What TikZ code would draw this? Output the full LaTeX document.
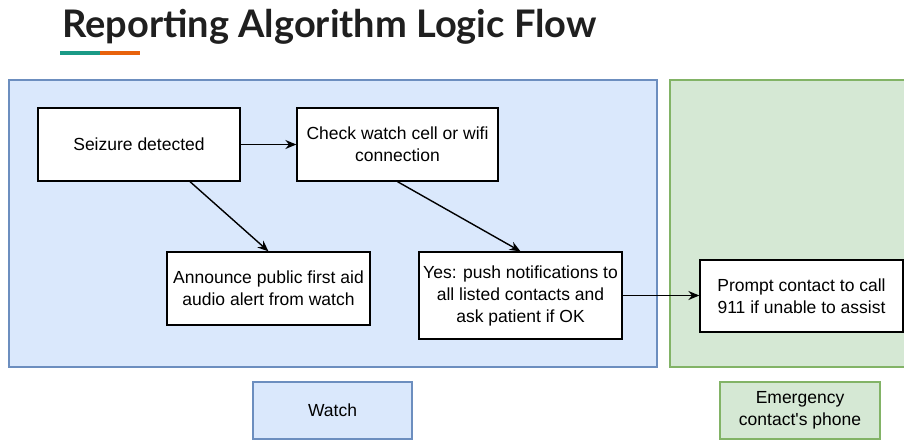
\documentclass[tikz,border=0pt]{standalone}
\usepackage{fontspec}
\setmainfont{Liberation Sans}
\newfontfamily\titlefont{Lato}
\usetikzlibrary{arrows.meta}
\definecolor{watchfill}{HTML}{DAE8FC}
\definecolor{watchline}{HTML}{6C8EBF}
\definecolor{phonefill}{HTML}{D5E8D4}
\definecolor{phoneline}{HTML}{82B366}
\definecolor{barteal}{HTML}{1A9A86}
\definecolor{barorange}{HTML}{E8620C}

\begin{document}
\begin{tikzpicture}[x=1pt, y=-1pt,
    every node/.style={font=\fontsize{17.5}{22}\selectfont},
    stepbox/.style={draw=black, line width=1.3pt, fill=white, align=center, inner sep=1pt},
    flow/.style={line width=1.4pt, -{Stealth[length=11pt, width=9pt]}}]
    \useasboundingbox (0,0) rectangle (904,440);

    % title
    \node[anchor=base west, inner sep=0pt, font=\titlefont\bfseries\fontsize{38}{44}\selectfont, text=black!88] (title) at (62,37) {Reporting Algorithm Logic Flow};
    \fill[barteal] (60,51) rectangle (100,55);
    \fill[barorange] (100,51) rectangle (140,55);

    % swimlanes
    \draw[fill=watchfill, draw=watchline, line width=1.2pt] (9,80) rectangle (657,367);
    \draw[fill=phonefill, draw=phoneline, line width=1.2pt] (670,80) rectangle (912,367);

    \node[stepbox, minimum width=202, minimum height=73] (seize) at (139,144.5) {Seizure detected};
    \node[stepbox, minimum width=201, minimum height=73] (check) at (397.5,144.5) {Check watch cell or wifi\\connection};
    \node[stepbox, minimum width=203, minimum height=73] (announce) at (268.5,288.5) {Announce public first aid\\audio alert from watch};
    \node[stepbox, minimum width=203, minimum height=87] (push) at (520.5,295.5) {Yes: push notifications to\\all listed contacts and\\ask patient if OK};
    \node[stepbox, minimum width=203, minimum height=72] (prompt) at (801.5,296) {Prompt contact to call\\911 if unable to assist};

    \draw[flow] (seize) -- (check);
    \draw[flow] ([xshift=51]seize.south) -- (announce.north);
    \draw[flow] (check.south) -- (push.north);
    \draw[flow] (push.east) -- (prompt.west |- push.east);

    % lane labels
    \node[draw=watchline, fill=watchfill, line width=1.2pt, minimum width=159, minimum height=57, align=center] (watchlbl) at (332.5,410.5) {Watch};
    \node[draw=phoneline, fill=phonefill, line width=1.2pt, minimum width=160, minimum height=57, align=center] (phonelbl) at (800,410.5) {Emergency\\contact\textquotesingle s phone};
\end{tikzpicture}
\end{document}
